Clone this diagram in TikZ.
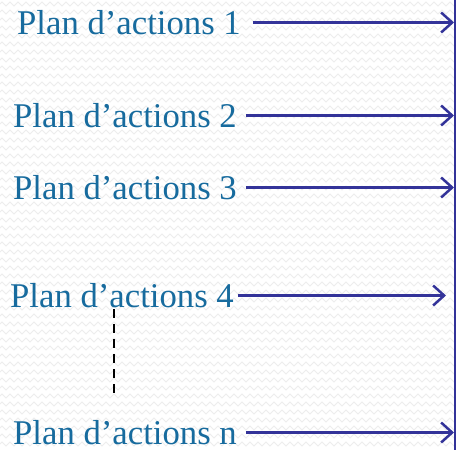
\documentclass[tikz,border=0pt]{standalone}
\usepackage{fontspec}
\setmainfont{Liberation Serif}
\usetikzlibrary{arrows.meta,decorations.pathmorphing}
\definecolor{txtc}{RGB}{23,107,158}
\definecolor{arrc}{RGB}{51,51,153}
\begin{document}
\begin{tikzpicture}[x=1pt,y=-1pt,
  lbl/.style={anchor=base west,inner sep=0pt,text height=23pt,text depth=0pt,text=txtc,font=\fontsize{34.7}{40}\selectfont},
  arr/.style={draw=arrc,line width=2.6pt,-{Straight Barb[length=11pt,width=20pt,line width=2.5pt]}},
  bgz/.style={draw=black!7,line width=0.8pt,decorate,decoration={zigzag,segment length=8pt,amplitude=2pt}}]
\useasboundingbox (0,0) rectangle (456,450);
\fill[white] (0,0) rectangle (456,450);
\foreach \yy in {4,12,...,448} {\draw[bgz] (0,\yy) -- (456,\yy);}
% right vertical line
\coordinate (rt) at (455,0);
\coordinate (rb) at (455,450);
\draw[arrc,line width=2pt] (rt) -- (rb);
% labels
\node[lbl] (t1) at (17,34) {Plan d’actions 1};
\node[lbl] (t2) at (13,127) {Plan d’actions 2};
\node[lbl] (t3) at (13,199) {Plan d’actions 3};
\node[lbl] (t4) at (10,307) {Plan d’actions 4};
\node[lbl] (tn) at (13,444) {Plan d’actions n};
% arrow ends
\coordinate (e1) at (454,22);
\coordinate (e2) at (454,116);
\coordinate (e3) at (454,188);
\coordinate (e4) at (446,296);
\coordinate (en) at (454,433);
\draw[arr,shorten <=12pt] (t1.east) -- (t1.east -| e1);
\draw[arr,shorten <=9pt] (t2.east) -- (t2.east -| e2);
\draw[arr,shorten <=9pt] (t3.east) -- (t3.east -| e3);
\draw[arr,shorten <=4pt] (t4.east) -- (t4.east -| e4);
\draw[arr,shorten <=9pt] (tn.east) -- (tn.east -| en);
% dashed vertical
\coordinate (d1) at (114,309);
\coordinate (d2) at (114,396);
\draw[black,line width=2.2pt,dash pattern=on 9pt off 6pt] (d1) -- (d2);
\end{tikzpicture}
\end{document}
